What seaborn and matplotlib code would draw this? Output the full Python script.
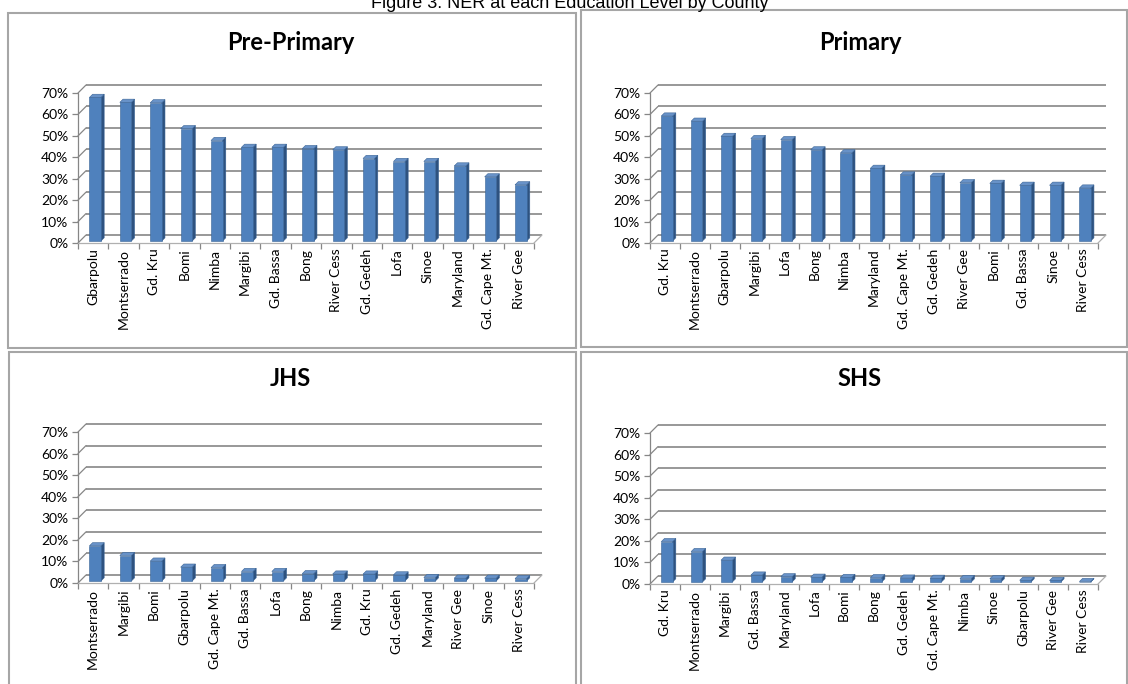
import numpy as np
import pandas as pd
import matplotlib
matplotlib.use("Agg")
import matplotlib.pyplot as plt
import seaborn as sns
from matplotlib.patches import Polygon, Rectangle

sns.set_theme(style="white")
plt.rcParams["font.family"] = ["Lato", "DejaVu Sans"]

# ---- data: net enrolment ratio by county, sorted high to low per level ----
pre_primary_counties = ["Gbarpolu", "Montserrado", "Gd. Kru", "Bomi", "Nimba", "Margibi",
                        "Gd. Bassa", "Bong", "River Cess", "Gd. Gedeh", "Lofa", "Sinoe",
                        "Maryland", "Gd. Cape Mt.", "River Gee"]
pre_primary_ner = [0.67, 0.647, 0.645, 0.524, 0.469, 0.437, 0.437, 0.431, 0.425, 0.385,
                   0.371, 0.371, 0.350, 0.299, 0.262]

primary_counties = ["Gd. Kru", "Montserrado", "Gbarpolu", "Margibi", "Lofa", "Bong", "Nimba",
                    "Maryland", "Gd. Cape Mt.", "Gd. Gedeh", "River Gee", "Bomi", "Gd. Bassa",
                    "Sinoe", "River Cess"]
primary_ner = [0.583, 0.559, 0.488, 0.478, 0.473, 0.425, 0.411, 0.339, 0.308, 0.302,
               0.272, 0.269, 0.260, 0.260, 0.247]

jhs_counties = ["Montserrado", "Margibi", "Bomi", "Gbarpolu", "Gd. Cape Mt.", "Gd. Bassa", "Lofa",
                "Bong", "Nimba", "Gd. Kru", "Gd. Gedeh", "Maryland", "River Gee", "Sinoe",
                "River Cess"]
jhs_ner = [0.163, 0.118, 0.092, 0.064, 0.062, 0.044, 0.044, 0.034, 0.032, 0.032, 0.028,
           0.016, 0.013, 0.013, 0.011]

shs_counties = ["Gd. Kru", "Montserrado", "Margibi", "Gd. Bassa", "Maryland", "Lofa", "Bomi",
                "Bong", "Gd. Gedeh", "Gd. Cape Mt.", "Nimba", "Sinoe", "Gbarpolu", "River Gee",
                "River Cess"]
shs_ner = [0.187, 0.141, 0.101, 0.032, 0.024, 0.022, 0.021, 0.020, 0.018, 0.017, 0.016,
           0.015, 0.008, 0.007, 0.002]

y_ticks = [0.0, 0.1, 0.2, 0.3, 0.4, 0.5, 0.6, 0.7]
figure_title = "Figure 3: NER at each Education Level by County"

# ---- styling ----
W, H = 1128, 684
FRONT = "#4F81BD"
SIDE = "#2E527F"
TOP = "#6892C8"
EDGE = "#3A6496"
GRID = "#868686"
FRAME = "#A6A6A6"
DEPTH_X, DEPTH_Y = 8, 8          # back-wall offset in pixels
BAR_FRONT, BAR_BACK = 0.25, 0.65  # bar depth as fraction of the wall offset

# frame box and front plane box in pixels (left, top, right, bottom)
panels = [
    dict(title="Pre-Primary", cats=pre_primary_counties, vals=pre_primary_ner,
         frame=(8, 13, 576, 348), plane=(78, 93, 534, 243), tpos=(291, 42)),
    dict(title="Primary", cats=primary_counties, vals=primary_ner,
         frame=(581, 10, 1127, 347), plane=(650, 93, 1098, 243), tpos=(860, 42)),
    dict(title="JHS", cats=jhs_counties, vals=jhs_ner,
         frame=(9, 352, 576, 690), plane=(78, 432, 534, 583), tpos=(290, 379)),
    dict(title="SHS", cats=shs_counties, vals=shs_ner,
         frame=(581, 352, 1127, 690), plane=(650, 433, 1098, 584), tpos=(860, 379)),
]

fig = plt.figure(figsize=(W / 100, H / 100), dpi=100)


def fx(px):
    return px / W


def fy(py):
    return 1 - py / H


for p in panels:
    l, t, r, b = p["frame"]
    fig.patches.append(Rectangle((fx(l), fy(b)), fx(r - l), (b - t) / H,
                                 transform=fig.transFigure, fill=False,
                                 edgecolor=FRAME, linewidth=1.5, zorder=0))
    fig.text(fx(p["tpos"][0]), fy(p["tpos"][1]), p["title"], ha="center", va="center",
             fontsize=17, fontweight="bold", color="black")

    pl, pt, pr, pb = p["plane"]
    ax = fig.add_axes([fx(pl), fy(pb), fx(pr - pl), (pb - pt) / H])
    n = len(p["cats"])
    df = pd.DataFrame({"county": p["cats"], "ner": p["vals"]})
    sns.barplot(data=df, x="county", y="ner", ax=ax, color=FRONT, saturation=1,
                width=0.38, edgecolor=EDGE, linewidth=0.4, zorder=4)
    ax.set_xlim(-0.5, n - 0.5)
    ax.set_ylim(0, 0.7)
    ax.set_xlabel("")
    ax.set_ylabel("")
    for s in ax.spines.values():
        s.set_visible(False)

    # pixel -> data conversions for the depth offsets
    ux = (pr - pl) / n
    uy = (pb - pt) / 0.7
    ddx, ddy = DEPTH_X / ux, DEPTH_Y / uy

    # back wall grid, left-wall diagonals, front axis and floor edges
    for v in y_ticks:
        ax.plot([-0.5 + ddx, n - 0.5 + ddx], [v + ddy, v + ddy], color=GRID, lw=1.2,
                clip_on=False, zorder=1, solid_capstyle="butt")
        ax.plot([-0.5, -0.5 + ddx], [v, v + ddy], color=GRID, lw=0.9, clip_on=False, zorder=1)
    ax.plot([-0.5, -0.5], [0, 0.7], color=GRID, lw=0.9, clip_on=False, zorder=1)
    ax.plot([-0.5, n - 0.5], [0, 0], color="#B0B0B0", lw=0.9, clip_on=False, zorder=1)
    ax.plot([n - 0.5, n - 0.5 + ddx], [0, ddy], color="#B0B0B0", lw=0.9, clip_on=False, zorder=1)

    # give each bar its depth: shift front face, add side and top faces
    a, bk = BAR_FRONT, BAR_BACK
    for patch in ax.patches:
        x0, w, h = patch.get_x(), patch.get_width(), patch.get_height()
        x0f, y0f = x0 + a * ddx, a * ddy
        patch.set_x(x0f)
        patch.set_y(y0f)
        patch.set_clip_on(False)
        sx, sy = (bk - a) * ddx, (bk - a) * ddy
        xr, yt = x0f + w, y0f + h
        side = Polygon([(xr, y0f), (xr + sx, y0f + sy), (xr + sx, yt + sy), (xr, yt)],
                       closed=True, facecolor=SIDE, edgecolor=EDGE, lw=0.4,
                       clip_on=False, zorder=3)
        top = Polygon([(x0f, yt), (xr, yt), (xr + sx, yt + sy), (x0f + sx, yt + sy)],
                      closed=True, facecolor=TOP, edgecolor=EDGE, lw=0.4,
                      clip_on=False, zorder=3)
        ax.add_patch(side)
        ax.add_patch(top)

    ax.set_yticks(y_ticks)
    ax.set_yticklabels([f"{int(round(v * 100))}%" for v in y_ticks])
    ax.set_xticks(range(n))
    ax.set_xticklabels(p["cats"], rotation=90)
    ax.set_xticks(np.arange(-0.5, n, 1), minor=True)
    ax.tick_params(axis="y", which="major", left=True, length=4, width=0.9, color=GRID,
                   pad=3, labelsize=10, labelcolor="black")
    ax.tick_params(axis="x", which="major", bottom=False, length=0, pad=4,
                   labelsize=10, labelcolor="black")
    ax.tick_params(axis="x", which="minor", bottom=True, length=4, width=0.9, color=GRID)
    ax.grid(False)

fig.text(0.505, fy(4), figure_title, ha="center", va="center", fontsize=13,
         family=["Liberation Sans", "DejaVu Sans"], color="black")

fig.savefig("out.png", dpi=100)
